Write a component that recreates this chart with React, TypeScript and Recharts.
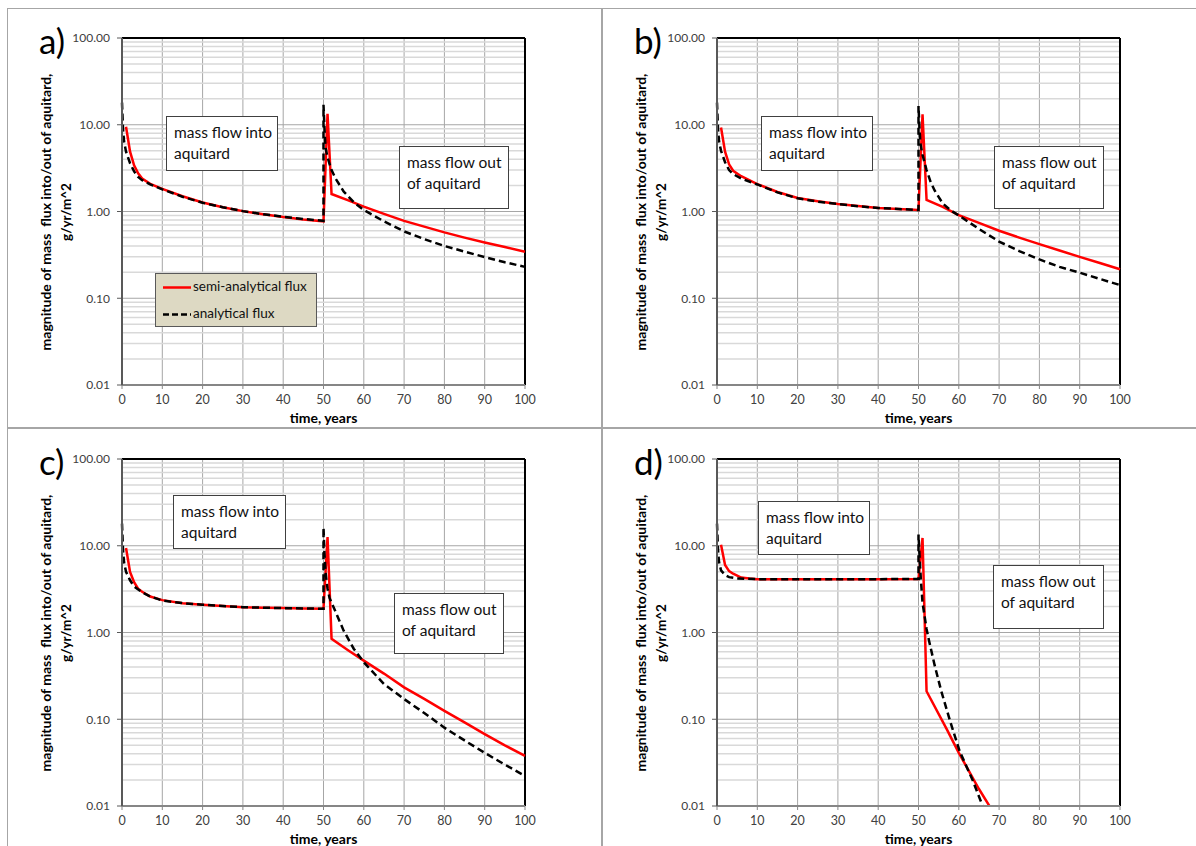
import React from "react";
import { CartesianGrid, Line, LineChart, ReferenceLine, XAxis, YAxis } from "recharts";

// time (years) vs flux magnitude (g/yr/m^2)
const semiA = [[1, 9.5], [2, 4.9], [3, 3.4], [4, 2.75], [5, 2.4], [7, 2.08], [10, 1.82], [15, 1.5], [20, 1.27], [25, 1.12], [30, 1.01], [35, 0.93], [40, 0.865], [45, 0.81], [50, 0.77], [51, 13.4], [52, 1.59], [56, 1.35], [60, 1.14], [65, 0.94], [70, 0.78], [75, 0.67], [80, 0.575], [85, 0.5], [90, 0.44], [95, 0.39], [100, 0.343]];
const anaA = [[0, 18], [0.25, 9], [0.5, 6.5], [1, 4.9], [2, 3.6], [3, 2.9], [4, 2.5], [5, 2.3], [7, 2.05], [10, 1.8], [15, 1.48], [20, 1.26], [25, 1.12], [30, 1.01], [35, 0.93], [40, 0.87], [45, 0.82], [50, 0.78], [50, 17], [50.25, 9], [50.5, 5.5], [51, 4.2], [52, 3.0], [53, 2.4], [55, 1.7], [57.5, 1.28], [60, 1.04], [65, 0.77], [70, 0.59], [75, 0.48], [80, 0.4], [85, 0.345], [90, 0.298], [95, 0.26], [100, 0.23]];

const semiB = [[1, 9.3], [2, 4.9], [3, 3.5], [4, 2.95], [6, 2.55], [10, 2.07], [15, 1.68], [20, 1.43], [25, 1.31], [30, 1.22], [35, 1.16], [40, 1.1], [45, 1.07], [50, 1.04], [51, 13.2], [52, 1.36], [56, 1.13], [60, 0.91], [65, 0.74], [70, 0.6], [75, 0.5], [80, 0.42], [85, 0.355], [90, 0.3], [95, 0.255], [100, 0.216]];
const anaB = [[0, 18], [0.25, 9], [0.5, 6.5], [1, 5], [2, 3.7], [3, 3.0], [4, 2.7], [6, 2.4], [10, 2.05], [15, 1.66], [20, 1.42], [25, 1.3], [30, 1.22], [35, 1.15], [40, 1.1], [45, 1.07], [50, 1.04], [50, 16.4], [50.25, 9], [50.5, 6], [51, 4.5], [52, 3.0], [53, 2.2], [54, 1.75], [56, 1.24], [58, 1.03], [60, 0.9], [65, 0.63], [70, 0.45], [75, 0.35], [80, 0.28], [85, 0.23], [90, 0.197], [95, 0.167], [100, 0.142]];

const semiC = [[1, 9.4], [2, 5.0], [3, 3.8], [4, 3.2], [5, 2.95], [7, 2.6], [10, 2.36], [15, 2.18], [20, 2.09], [25, 2.02], [30, 1.96], [35, 1.93], [40, 1.91], [45, 1.89], [50, 1.88], [51, 12.6], [52, 0.845], [56, 0.63], [60, 0.474], [65, 0.336], [70, 0.233], [75, 0.172], [80, 0.125], [85, 0.092], [90, 0.0674], [95, 0.05], [100, 0.0379]];
const anaC = [[0, 18], [0.25, 9], [0.5, 6.5], [1, 5], [1.5, 4.5], [2, 4.0], [3, 3.4], [5, 2.9], [7, 2.6], [10, 2.34], [15, 2.18], [20, 2.09], [25, 2.02], [30, 1.96], [35, 1.93], [40, 1.91], [45, 1.89], [50, 1.88], [50, 16.2], [50.25, 8], [50.5, 5], [51, 3.2], [51.5, 2.5], [52.5, 1.96], [55, 1.05], [57.5, 0.65], [60, 0.454], [65, 0.255], [70, 0.171], [75, 0.118], [80, 0.08], [85, 0.057], [90, 0.041], [95, 0.03], [100, 0.0222]];

const semiD = [[1, 10.3], [2, 6.0], [3, 5.1], [4, 4.76], [6, 4.3], [8, 4.18], [10, 4.12], [20, 4.1], [30, 4.1], [40, 4.12], [50, 4.15], [51, 12.3], [52, 0.21], [57, 0.077], [60, 0.041], [65, 0.0157], [70, 0.0066]];
const anaD = [[0, 18], [0.25, 9], [0.5, 6.5], [1, 5.2], [2, 4.6], [3, 4.35], [5, 4.2], [10, 4.12], [20, 4.1], [30, 4.1], [40, 4.12], [50, 4.15], [50, 13.5], [50.3, 7], [50.6, 4], [51, 2.2], [52, 1.1], [52.6, 0.81], [54, 0.42], [55.6, 0.215], [58, 0.09], [60.2, 0.043], [63.5, 0.0195], [66, 0.0098], [68, 0.0062]];

const xTicks = [0, 10, 20, 30, 40, 50, 60, 70, 80, 90, 100];
const yTicks = [0.01, 0.1, 1, 10, 100];
const yMinor = [0.02, 0.03, 0.04, 0.05, 0.06, 0.07, 0.08, 0.09, 0.2, 0.3, 0.4, 0.5, 0.6, 0.7, 0.8, 0.9, 2, 3, 4, 5, 6, 7, 8, 9, 20, 30, 40, 50, 60, 70, 80, 90];

const SEMI_NAME = "semi-analytical flux";
const ANA_NAME = "analytical flux";
const Y_TITLE_1 = "magnitude of mass\u00a0 flux into/out of aquitard,";
const Y_TITLE_2 = "g/yr/m^2";
const X_TITLE = "time, years";

const FONT = "Lato, 'Open Sans', sans-serif";
const PLOT_W = 403;
const PLOT_H = 347;
const Y_AXIS_W = 80;
const X_AXIS_H = 30;
const MARGIN = { top: 20, right: 20, bottom: 10, left: 0 };

const toPts = (arr: number[][]) => arr.map(([t, v]) => ({ t, v }));

type Box = { x: number; y: number; w: number; h: number };

function Note({ box, lines }: { box: Box; lines: string[] }) {
  return (
    <div
      style={{
        position: "absolute",
        left: box.x,
        top: box.y,
        width: box.w,
        height: box.h,
        boxSizing: "border-box",
        border: "1px solid #404040",
        background: "#fff",
        padding: "5px 0 0 7px",
        fontSize: 15.5,
        lineHeight: "21px",
        color: "#111",
      }}
    >
      {lines.map((l) => (
        <div key={l} style={{ whiteSpace: "nowrap" }}>{l}</div>
      ))}
    </div>
  );
}

function Legend() {
  return (
    <div
      style={{
        position: "absolute",
        left: 33,
        top: 235,
        width: 162,
        height: 54,
        boxSizing: "border-box",
        border: "1px solid #595959",
        background: "#ddd9c3",
        fontSize: 13.5,
        color: "#111",
      }}
    >
      <svg width={30} height={54} style={{ position: "absolute", left: 6, top: 0 }}>
        <line x1={1} x2={29} y1={13.5} y2={13.5} stroke="#ff0000" strokeWidth={2.5} />
        <line x1={1} x2={29} y1={40.5} y2={40.5} stroke="#000" strokeWidth={2.5} strokeDasharray="6 3" />
      </svg>
      <div style={{ position: "absolute", left: 37, top: 4, whiteSpace: "nowrap" }}>{SEMI_NAME}</div>
      <div style={{ position: "absolute", left: 37, top: 31, whiteSpace: "nowrap" }}>{ANA_NAME}</div>
    </div>
  );
}

type PanelProps = {
  left: number;
  top: number;
  label: string;
  semi: number[][];
  ana: number[][];
  intoBox: Box;
  outBox: Box;
  legend?: boolean;
};

function Panel({ left, top, label, semi, ana, intoBox, outBox, legend }: PanelProps) {
  return (
    <div style={{ position: "absolute", left, top, width: PLOT_W, height: PLOT_H }}>
      <div style={{ position: "absolute", left: -Y_AXIS_W - MARGIN.left, top: -MARGIN.top }}>
        <LineChart
          width={MARGIN.left + Y_AXIS_W + PLOT_W + MARGIN.right}
          height={MARGIN.top + PLOT_H + X_AXIS_H + MARGIN.bottom}
          margin={MARGIN}
        >
          {yMinor.map((v) => (
            <ReferenceLine key={v} y={v} stroke="#d9d9d9" strokeWidth={1.5} />
          ))}
          <CartesianGrid stroke="#a6a6a6" strokeWidth={1} />
          <XAxis
            dataKey="t"
            type="number"
            domain={[0, 100]}
            ticks={xTicks}
            height={X_AXIS_H}
            axisLine={{ stroke: "#868686", strokeWidth: 2 }}
            tickLine={{ stroke: "#868686" }}
            tickSize={4}
            tickMargin={6}
            tick={{ fill: "#404040", fontSize: 12.5, fontFamily: FONT }}
          />
          <YAxis
            type="number"
            scale="log"
            domain={[0.01, 100]}
            ticks={yTicks}
            allowDataOverflow
            width={Y_AXIS_W}
            tickFormatter={(v: number) => v.toFixed(2)}
            axisLine={{ stroke: "#595959", strokeWidth: 2 }}
            tickLine={{ stroke: "#595959" }}
            tickSize={5}
            tickMargin={7}
            tick={{ fill: "#404040", fontSize: 12, fontFamily: FONT }}
          />
          <ReferenceLine y={100} stroke="#000" strokeWidth={2} />
          <ReferenceLine x={100} stroke="#000" strokeWidth={2} />
          <Line
            data={toPts(semi)}
            dataKey="v"
            name={SEMI_NAME}
            stroke="#ff0000"
            strokeWidth={2.5}
            dot={false}
            isAnimationActive={false}
          />
          <Line
            data={toPts(ana)}
            dataKey="v"
            name={ANA_NAME}
            stroke="#000"
            strokeWidth={2.5}
            strokeDasharray="7 4"
            dot={false}
            isAnimationActive={false}
          />
        </LineChart>
      </div>
      <div style={{ position: "absolute", left: -83, top: -20, fontSize: 35, lineHeight: "44px", color: "#000" }}>
        {label}
      </div>
      <div
        style={{
          position: "absolute",
          left: -66 - 160,
          top: PLOT_H / 2 - 21,
          width: 320,
          textAlign: "center",
          transform: "rotate(-90deg)",
          fontWeight: 700,
          lineHeight: "21px",
          whiteSpace: "nowrap",
        }}
      >
        <div style={{ fontSize: 14 }}>{Y_TITLE_1}</div>
        <div style={{ fontSize: 13.5 }}>{Y_TITLE_2}</div>
      </div>
      <div
        style={{
          position: "absolute",
          left: 0,
          width: PLOT_W,
          top: PLOT_H + 25,
          textAlign: "center",
          fontWeight: 700,
          fontSize: 14,
          lineHeight: "16px",
        }}
      >
        {X_TITLE}
      </div>
      <Note box={intoBox} lines={["mass flow into", "aquitard"]} />
      <Note box={outBox} lines={["mass flow out", "of aquitard"]} />
      {legend ? <Legend /> : null}
    </div>
  );
}

const rule = (s: React.CSSProperties) => <div style={{ position: "absolute", background: "#a6a6a6", ...s }} />;

export default function App() {
  return (
    <div style={{ position: "absolute", left: 0, top: 0, width: 1196, height: 846, background: "#fff", fontFamily: FONT, overflow: "hidden" }}>
      {rule({ left: 7, top: 8, width: 1189, height: 1 })}
      {rule({ left: 7, top: 427, width: 1189, height: 2 })}
      {rule({ left: 7, top: 8, width: 1, height: 838 })}
      {rule({ left: 601, top: 8, width: 2, height: 838 })}
      <Panel left={122} top={38} label="a)" semi={semiA} ana={anaA}
        intoBox={{ x: 44, y: 78, w: 112, h: 55 }} outBox={{ x: 277, y: 108, w: 110, h: 63 }} legend />
      <Panel left={717} top={38} label="b)" semi={semiB} ana={anaB}
        intoBox={{ x: 44, y: 78, w: 112, h: 55 }} outBox={{ x: 277, y: 108, w: 110, h: 63 }} />
      <Panel left={122} top={459} label="c)" semi={semiC} ana={anaC}
        intoBox={{ x: 51, y: 36, w: 113, h: 54 }} outBox={{ x: 272, y: 134, w: 110, h: 61 }} />
      <Panel left={717} top={459} label="d)" semi={semiD} ana={anaD}
        intoBox={{ x: 41, y: 42, w: 112, h: 54 }} outBox={{ x: 276, y: 106, w: 111, h: 64 }} />
    </div>
  );
}
